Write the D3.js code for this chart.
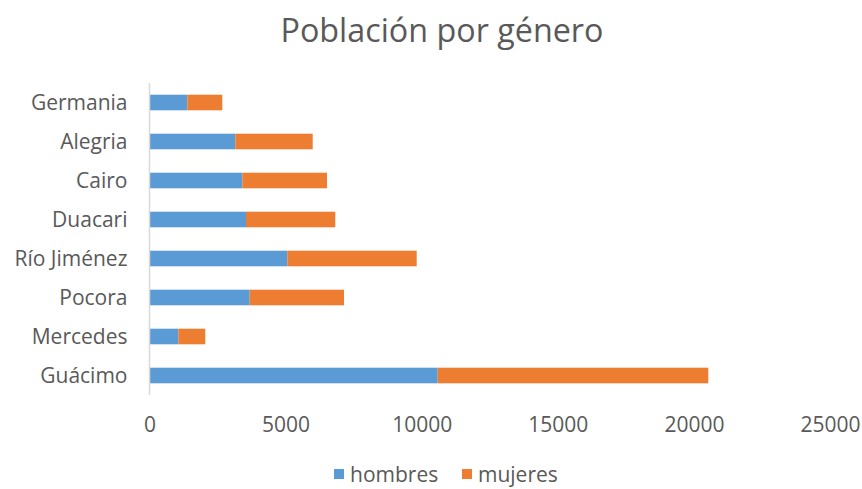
<!DOCTYPE html>
<html><head><meta charset="utf-8">
<script src="https://cdn.jsdelivr.net/npm/d3@7"></script>
<style>body{margin:0;background:#fff}svg{display:block}text{font-family:"Open Sans",sans-serif;fill:#595959}</style>
</head><body>
<svg id="c" width="862" height="489"></svg>
<script>
const categories = ["Germania","Alegria","Cairo","Duacari","Río Jiménez","Pocora","Mercedes","Guácimo"];
const hombres = [1389,3152,3409,3545,5062,3681,1058,10588];
const mujeres = [1285,2844,3112,3281,4754,3465,992,9941];
const seriesNames = ["hombres","mujeres"];
const xTicks = [0,5000,10000,15000,20000,25000];
const colors = ["#5B9BD5","#ED7D31"];

const svg = d3.select("#c");
const x = d3.scaleLinear().domain([0,25000]).range([149.5,830]);
const y = d3.scaleBand().domain(categories).range([83,395]).paddingInner(0.6).paddingOuter(0.3);

const rows = categories.map((c,i)=>({cat:c,hombres:hombres[i],mujeres:mujeres[i]}));
const stack = d3.stack().keys(seriesNames)(rows);

svg.append("text").attr("x",442).attr("y",42).attr("text-anchor","middle")
  .style("font-size","32.3px").text("Población por género");

svg.selectAll("g.s").data(stack).join("g").attr("fill",(d,i)=>colors[i])
  .selectAll("rect").data(d=>d).join("rect")
  .attr("x",d=>x(d[0])).attr("width",d=>x(d[1])-x(d[0]))
  .attr("y",d=>y(d.data.cat)).attr("height",y.bandwidth());

svg.append("line").attr("x1",149.5).attr("x2",149.5).attr("y1",83).attr("y2",395)
  .attr("stroke","#D9D9D9").attr("stroke-width",1.5);

const yAxis = svg.append("g").attr("transform","translate(149.5,0)")
  .call(d3.axisLeft(y).tickSize(0).tickPadding(22));
yAxis.select(".domain").remove();
yAxis.selectAll("text").style("font-size","21px").attr("fill","#595959").attr("dy","0.36em");

const xAxis = svg.append("g").attr("transform","translate(0,410)")
  .call(d3.axisBottom(x).tickValues(xTicks).tickSize(0).tickPadding(7).tickFormat(d3.format("d")));
xAxis.select(".domain").remove();
xAxis.selectAll("text").style("font-size","21px").attr("fill","#595959");

const leg = svg.append("g");
const legX = [334,462];
seriesNames.forEach((n,i)=>{
  leg.append("rect").attr("x",legX[i]).attr("y",469).attr("width",10).attr("height",10).attr("fill",colors[i]);
  leg.append("text").attr("x",legX[i]+16).attr("y",482).style("font-size","21px").text(n);
});
</script>
</body></html>
